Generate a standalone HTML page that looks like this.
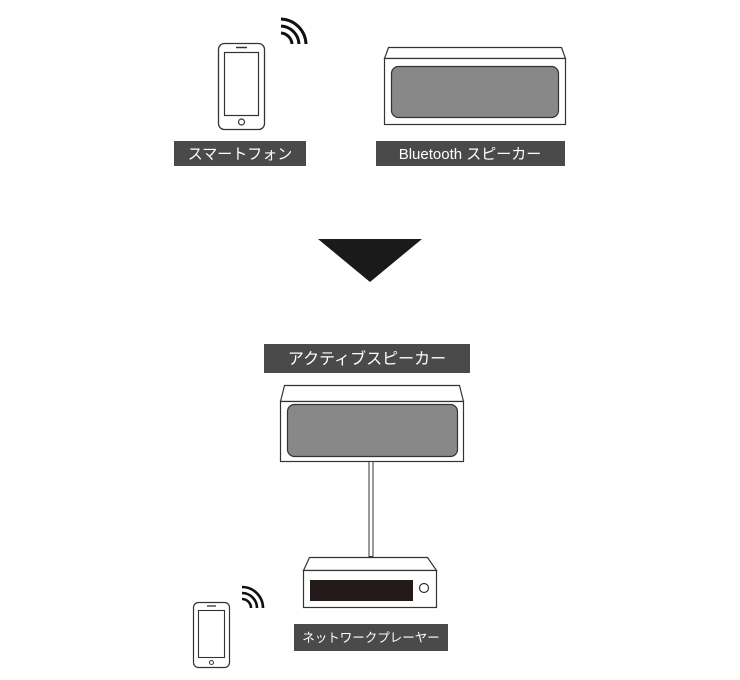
<!DOCTYPE html>
<html><head><meta charset="utf-8"><style>
html,body{margin:0;padding:0;background:#fff;}
svg{display:block}
text{font-family:"Liberation Sans","Noto Sans CJK JP",sans-serif;fill:#fff;}
</style></head><body>
<svg width="740" height="680" viewBox="0 0 740 680" xmlns="http://www.w3.org/2000/svg">
<!-- phone top -->
<rect x="218.5" y="43.5" width="46" height="86" rx="6" fill="#fff" stroke="#333" stroke-width="1.3"/>
<rect x="224.5" y="52.5" width="34" height="63" fill="#fff" stroke="#333" stroke-width="1.2"/>
<line x1="236" y1="47.5" x2="247" y2="47.5" stroke="#333" stroke-width="1.5"/>
<circle cx="241.5" cy="122" r="3" fill="none" stroke="#333" stroke-width="1.2"/>
<g fill="none" stroke="#111" stroke-width="3">
<path d="M281 33 A12 12 0 0 1 292 44"/>
<path d="M281 26 A19 19 0 0 1 299 44"/>
<path d="M281 19 A26 26 0 0 1 306 44"/>
</g>
<rect x="174" y="141" width="132" height="25" fill="#4a4a4a"/>
<text x="240" y="159" font-size="15" text-anchor="middle">スマートフォン</text>
<!-- BT speaker -->
<polygon points="388.5,47.5 561.5,47.5 565.5,58.5 384.5,58.5" fill="#fff" stroke="#333" stroke-width="1.2"/>
<rect x="384.5" y="58.5" width="181" height="66" fill="#fff" stroke="#333" stroke-width="1.2"/>
<rect x="391.5" y="66.5" width="167" height="51" rx="7" fill="#888" stroke="#333" stroke-width="1.2"/>
<rect x="376" y="141" width="189" height="25" fill="#4a4a4a"/>
<text x="470" y="159" font-size="15" text-anchor="middle">Bluetooth スピーカー</text>
<!-- arrow -->
<polygon points="318,239 422,239 370,282" fill="#1a1a1a"/>
<!-- active speaker -->
<rect x="264" y="344" width="206" height="29" fill="#4a4a4a"/>
<text x="367" y="364" font-size="16" text-anchor="middle">アクティブスピーカー</text>
<polygon points="284.5,385.5 459.5,385.5 463.5,401.5 280.5,401.5" fill="#fff" stroke="#333" stroke-width="1.2"/>
<rect x="280.5" y="401.5" width="183" height="60" fill="#fff" stroke="#333" stroke-width="1.2"/>
<rect x="287.5" y="404.5" width="170" height="52" rx="7" fill="#888" stroke="#333" stroke-width="1.2"/>
<!-- cable -->
<rect x="369" y="461.5" width="4" height="95" fill="#fff" stroke="#333" stroke-width="1"/>
<!-- network player -->
<polygon points="309.5,557.5 427.5,557.5 436.5,570.5 303.5,570.5" fill="#fff" stroke="#333" stroke-width="1.2"/>
<rect x="303.5" y="570.5" width="133" height="37" fill="#fff" stroke="#333" stroke-width="1.2"/>
<rect x="310" y="580" width="103" height="21" fill="#241a1a"/>
<circle cx="424" cy="588" r="4.5" fill="none" stroke="#333" stroke-width="1.2"/>
<rect x="294" y="624" width="154" height="27" fill="#4a4a4a"/>
<text x="371" y="642" font-size="12.5" text-anchor="middle">ネットワークプレーヤー</text>
<!-- small phone -->
<rect x="193.5" y="602.5" width="36" height="65" rx="5" fill="#fff" stroke="#333" stroke-width="1.2"/>
<rect x="198.5" y="610.5" width="26" height="47" fill="#fff" stroke="#333" stroke-width="1.1"/>
<line x1="207" y1="606" x2="216" y2="606" stroke="#333" stroke-width="1.3"/>
<circle cx="211.5" cy="662.5" r="2" fill="none" stroke="#333" stroke-width="1"/>
<g fill="none" stroke="#111" stroke-width="2.6">
<path d="M242 599 A9 9 0 0 1 251 608"/>
<path d="M242 593 A15 15 0 0 1 257 608"/>
<path d="M242 587 A21 21 0 0 1 263 608"/>
</g>
</svg>
</body></html>
